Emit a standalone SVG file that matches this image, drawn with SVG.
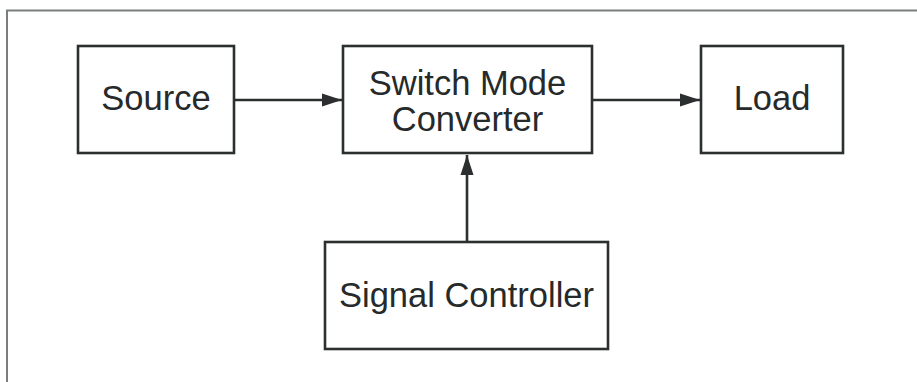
<svg xmlns="http://www.w3.org/2000/svg" width="917" height="382" viewBox="0 0 917 382">
  <style>
    .box { fill: #ffffff; stroke: #2b2f2f; stroke-width: 2.6; }
    .lbl { font-family: "Liberation Sans", Arial, sans-serif; font-size: 34.5px; fill: #262a2a; text-anchor: middle; }
    .wire { stroke: #2b2f2f; stroke-width: 2.6; fill: none; }
    .frame { stroke: #7a7e7e; stroke-width: 2; fill: none; }
  </style>
  <defs>
    <marker id="arrow" markerWidth="20" markerHeight="14" refX="20" refY="7" orient="auto" markerUnits="userSpaceOnUse">
      <path d="M0,0.5 L20,7 L0,13.5 Z" fill="#2b2f2f"/>
    </marker>
  </defs>

  <rect width="917" height="382" fill="#ffffff"/>
  <!-- outer frame, open to the right and bottom -->
  <path class="frame" d="M7,382 L7,10.5 L917,10.5"/>

  <g id="source">
    <rect class="box" x="78" y="46" width="156" height="107"/>
    <text class="lbl" x="156" y="110">Source</text>
  </g>

  <g id="converter">
    <rect class="box" x="343" y="46" width="249" height="107"/>
    <text class="lbl" x="467.5" y="95">Switch Mode</text>
    <text class="lbl" x="467.5" y="131">Converter</text>
  </g>

  <g id="load">
    <rect class="box" x="701" y="46" width="142" height="107"/>
    <text class="lbl" x="772" y="110">Load</text>
  </g>

  <g id="controller">
    <rect class="box" x="325" y="242" width="283" height="107"/>
    <text class="lbl" x="466.5" y="307">Signal Controller</text>
  </g>

  <g id="connectors">
    <line class="wire" x1="234" y1="100" x2="342" y2="100" marker-end="url(#arrow)"/>
    <line class="wire" x1="592" y1="100" x2="700" y2="100" marker-end="url(#arrow)"/>
    <line class="wire" x1="467" y1="242" x2="467" y2="155" marker-end="url(#arrow)"/>
  </g>
</svg>
